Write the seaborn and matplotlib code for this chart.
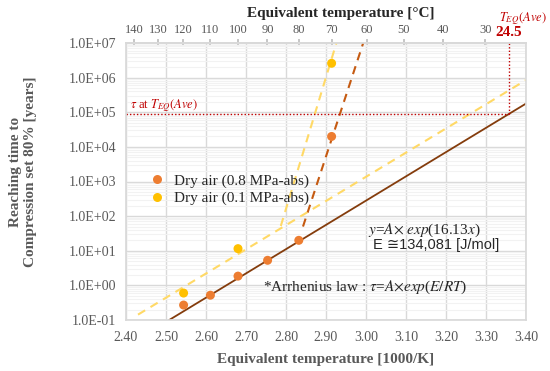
import numpy as np
import pandas as pd
import matplotlib
matplotlib.use("Agg")
import matplotlib.pyplot as plt
import seaborn as sns
from matplotlib.ticker import LogLocator, FuncFormatter, FixedLocator, NullFormatter

# ---------------- data ----------------
x_08 = [2.544, 2.611, 2.680, 2.754, 2.832, 2.914]      # 1000/K
y_08 = [0.27, 0.52, 1.85, 5.3, 20.0, 2.0e4]            # years
x_01 = [2.544, 2.680, 2.914]
y_01 = [0.60, 11.5, 2.6e6]
series_08 = "Dry air (0.8 MPa-abs)"
series_01 = "Dry air (0.1 MPa-abs)"

# trend lines (end points)
fit_x = [2.508, 3.40]
fit_y = [0.1, 1.78e5]
dash08_x = [2.8425, 2.993]
dash08_y = [50.0, 1.0e7]
dash01a_x = [2.43, 3.40]
dash01a_y = [0.143, 8.5e5]
dash01b_x = [2.787, 2.926]
dash01b_y = [52.0, 1.0e7]

# reference at average equivalent temperature
teq_x = 3.3585
teq_y = 9.1e4
teq_label = "24.5"

x_ticks = [2.40, 2.50, 2.60, 2.70, 2.80, 2.90, 3.00, 3.10, 3.20, 3.30, 3.40]
c_ticks = [140, 130, 120, 110, 100, 90, 80, 70, 60, 50, 40, 30]

# ---------------- style ----------------
sns.set_theme(style="white")
plt.rcParams["font.family"] = ["Liberation Serif", "DejaVu Serif"]
plt.rcParams["mathtext.fontset"] = "stix"

C_08 = "#ED7D31"
C_01 = "#FFC000"
C_FIT = "#843C0C"
C_D08 = "#C55A11"
C_D01 = "#FFD966"
C_RED = "#C00000"
C_TICK = "#595959"
C_GRID = "#D9D9D9"

fig = plt.figure(figsize=(5.5, 3.71), dpi=100)
ax = fig.add_axes([126 / 550, 1 - 320 / 371, 400 / 550, 277 / 371])
ax.set_yscale("log")
ax.set_xlim(2.40, 3.40)
ax.set_ylim(0.1, 1e7)

# grid
ax.set_xticks(x_ticks)
ax.xaxis.set_major_formatter(FuncFormatter(lambda v, p: f"{v:.2f}"))
ax.yaxis.set_major_locator(LogLocator(base=10, numticks=20))
ax.yaxis.set_minor_locator(LogLocator(base=10, subs=np.arange(2, 10), numticks=20))
ax.yaxis.set_minor_formatter(NullFormatter())
ax.yaxis.set_major_formatter(FuncFormatter(lambda v, p: f"{v:.1E}"))
ax.grid(True, which="major", color=C_GRID, linewidth=1.0)
ax.grid(True, which="minor", axis="y", color="#F2F2F2", linewidth=0.8)
ax.set_axisbelow(True)
for s in ax.spines.values():
    s.set_color(C_GRID)
ax.tick_params(axis="both", which="both", length=0, colors=C_TICK, labelsize=10)
ax.tick_params(axis="x", pad=8)
ax.tick_params(axis="y", pad=7)

# trend lines
sns.lineplot(x=fit_x, y=fit_y, ax=ax, color=C_FIT, linewidth=1.3, legend=False)
sns.lineplot(x=dash08_x, y=dash08_y, ax=ax, color=C_D08, linewidth=1.5,
             linestyle=(0, (4, 3)), legend=False)
sns.lineplot(x=dash01a_x, y=dash01a_y, ax=ax, color=C_D01, linewidth=1.5,
             linestyle=(0, (4, 3)), legend=False)
sns.lineplot(x=dash01b_x, y=dash01b_y, ax=ax, color=C_D01, linewidth=1.5,
             linestyle=(0, (4, 3)), legend=False)

# points
df = pd.DataFrame({
    "x": x_08 + x_01,
    "y": y_08 + y_01,
    "series": [series_08] * len(x_08) + [series_01] * len(x_01),
})
sns.scatterplot(data=df, x="x", y="y", hue="series",
                palette={series_08: C_08, series_01: C_01},
                s=42, edgecolor="none", ax=ax, zorder=5)
ax.set_xlabel("")
ax.set_ylabel("")
leg = ax.legend(loc="upper left", bbox_to_anchor=(0.025, 0.55), frameon=False,
                fontsize=11, handletextpad=0.1, labelspacing=0.25,
                borderaxespad=0, markerscale=1.0)

# red reference lines
ax.plot([2.40, teq_x], [teq_y, teq_y], color=C_RED, linestyle=(0, (1, 1.5)), linewidth=1.0)
ax.plot([teq_x, teq_x], [teq_y, 1e7], color=C_RED, linestyle=(0, (1, 1.5)), linewidth=1.0)
ax.text(2.41, 1.55e5, r"$\tau$ at $T_{EQ}(Ave)$", color=C_RED, fontsize=9, va="center")

# equations
ax.text(3.005, 39, r"$y$=$A$$\times$ $exp$(16.13$x$)", fontsize=11, va="center", ha="left")
ax.text(3.018, 14.5, "E ≅134,081 [J/mol]", fontsize=10.5, va="center", ha="left",
        family=["Liberation Sans", "DejaVu Sans"])
ax.text(2.7425, 0.89, r"*Arrhenius law : $\tau$=$A$$\times$$exp$($E/RT$)",
        fontsize=11, va="center", ha="left")

# top axis (Celsius)
def inv_to_c(x):
    x = np.asarray(x, dtype=float)
    with np.errstate(divide="ignore"):
        return 1000.0 / x - 273.15

def c_to_inv(c):
    c = np.asarray(c, dtype=float)
    with np.errstate(divide="ignore"):
        return 1000.0 / (c + 273.15)

sec = ax.secondary_xaxis("top", functions=(inv_to_c, c_to_inv))
sec.xaxis.set_major_locator(FixedLocator(c_ticks))
sec.xaxis.set_major_formatter(FuncFormatter(lambda v, p: f"{v:.0f}"))
sec.tick_params(axis="x", direction="inout", length=6, color="#BFBFBF",
                colors=C_TICK, labelsize=9, pad=2)
sec.tick_params(axis="x", color="#BFBFBF")
sec.spines["top"].set_color(C_GRID)

fig.text(341 / 550, 1 - 13 / 371, "Equivalent temperature [°C]", ha="center",
         va="center", fontsize=11, fontweight="bold", color="#262626")
fig.text(509 / 550, 1 - 33 / 371, teq_label, ha="center", va="center",
         fontsize=11, fontweight="bold", color=C_RED)
fig.text(523 / 550, 1 - 19 / 371, r"$T_{EQ}(Ave)$", ha="center", va="center",
         fontsize=9, color=C_RED)

fig.text(326 / 550, 1 - 359 / 371, "Equivalent temperature [1000/K]", ha="center",
         va="center", fontsize=11, fontweight="bold", color=C_TICK)
fig.text(23 / 550, 1 - 172 / 371, "Reaching time to\nCompression set 80% [years]",
         ha="center", va="center", rotation=90, fontsize=11, fontweight="bold",
         color=C_TICK, linespacing=1.15)

fig.savefig("out.png", dpi=100)
